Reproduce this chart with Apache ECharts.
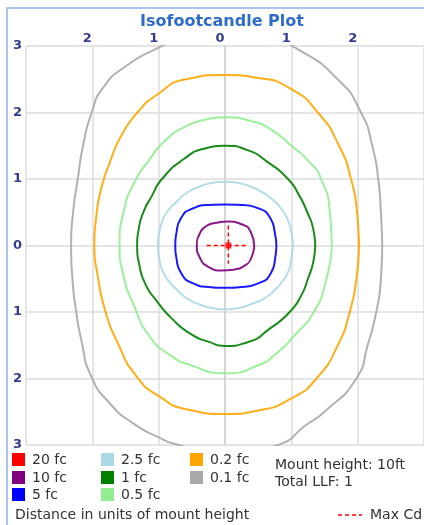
<!DOCTYPE html>
<html><head><meta charset="utf-8">
<script src="https://cdn.jsdelivr.net/npm/echarts@6/dist/echarts.min.js"></script>
<style>html,body{margin:0;padding:0;background:#fff}#c{width:424px;height:525px}</style>
</head><body><div id="c"></div>
<script>
// Contour levels (fc) and their labels
const levels = ['20 fc','10 fc','5 fc','2.5 fc','1 fc','0.5 fc','0.2 fc','0.1 fc'];
const levelColors = ['#ff0000','#800080','#0000ff','#add8e6','#008000','#90ee90','#ffa500','#a9a9a9'];
const tickValues = [-3,-2,-1,0,1,2,3];

// Isofootcandle contours, [x, y] in units of mount height
const c20 = [[0.05,0]];
const c10 = [[0.44,0],[0.39,0.2],[0.25,0.32],[0.05,0.36],[-0.15,0.34],[-0.3,0.28],[-0.38,0.18],[-0.425,0],[-0.38,-0.18],[-0.25,-0.32],[-0.05,-0.375],[0.15,-0.36],[0.3,-0.3],[0.39,-0.2],[0.44,0]];
const c5 = [[0.775,0],[0.75,0.2],[0.69,0.4],[0.5,0.56],[0.25,0.61],[0,0.615],[-0.25,0.61],[-0.48,0.56],[-0.67,0.4],[-0.73,0.2],[-0.75,0],[-0.73,-0.2],[-0.67,-0.4],[-0.48,-0.57],[-0.25,-0.625],[0,-0.635],[0.25,-0.625],[0.5,-0.57],[0.7,-0.4],[0.755,-0.2],[0.775,0]];
const c2_5 = [[1.025,0],[1.0,0.2],[0.95,0.38],[0.87,0.52],[0.74,0.67],[0.58,0.79],[0.4,0.88],[0.2,0.94],[0,0.96],[-0.2,0.94],[-0.4,0.88],[-0.58,0.79],[-0.72,0.67],[-0.86,0.52],[-0.94,0.38],[-0.99,0.2],[-1.01,0],[-0.99,-0.2],[-0.94,-0.38],[-0.86,-0.52],[-0.72,-0.67],[-0.58,-0.79],[-0.4,-0.88],[-0.2,-0.94],[0,-0.96],[0.2,-0.94],[0.4,-0.88],[0.6,-0.79],[0.75,-0.67],[0.88,-0.52],[0.96,-0.38],[1.0,-0.2],[1.025,0]];
const c1 = [[1.36,0],[1.33,0.25],[1.24,0.5],[1.12,0.75],[0.95,1.0],[0.65,1.25],[0.35,1.43],[0,1.5],[-0.3,1.46],[-0.62,1.3],[-0.95,1.0],[-1.1,0.75],[-1.23,0.5],[-1.3,0.25],[-1.325,0],[-1.29,-0.3],[-1.2,-0.58],[-1.04,-0.82],[-0.8,-1.1],[-0.5,-1.34],[-0.24,-1.45],[0,-1.51],[0.35,-1.45],[0.675,-1.25],[0.975,-1.0],[1.15,-0.75],[1.25,-0.5],[1.33,-0.25],[1.36,0]];
const c0_5 = [[1.61,0],[1.58,0.5],[1.45,1.0],[1.26,1.27],[1.0,1.5],[0.7,1.74],[0.4,1.87],[0,1.93],[-0.3,1.89],[-0.59,1.79],[-0.89,1.59],[-1.14,1.29],[-1.37,0.94],[-1.52,0.54],[-1.59,0],[-1.53,-0.45],[-1.37,-0.91],[-1.14,-1.36],[-0.84,-1.64],[-0.49,-1.81],[0,-1.92],[0.5,-1.8],[0.8,-1.6],[1.05,-1.35],[1.34,-1.0],[1.53,-0.5],[1.61,0]];
const c0_2 = [[2.02,0],[1.99,0.5],[1.9,1.0],[1.72,1.5],[1.4,2.0],[1.0,2.35],[0.5,2.52],[0,2.565],[-0.59,2.5],[-1.02,2.27],[-1.32,2.0],[-1.57,1.64],[-1.74,1.24],[-1.87,0.84],[-1.94,0.44],[-1.97,0],[-1.92,-0.45],[-1.8,-1.0],[-1.62,-1.46],[-1.34,-1.96],[-0.99,-2.27],[-0.55,-2.47],[0,-2.535],[0.5,-2.48],[1.0,-2.3],[1.38,-2.0],[1.7,-1.5],[1.88,-1.0],[1.98,-0.5],[2.02,0]];
const c0_1 = [[2.37,0],[2.35,0.5],[2.31,1.0],[2.22,1.5],[2.05,2.0],[1.7,2.5],[1.05,2.98],[0.6,3.15],[0,3.25],[-0.6,3.15],[-0.97,2.99],[-1.49,2.70],[-1.84,2.37],[-2.01,2.0],[-2.14,1.5],[-2.22,1.0],[-2.29,0.5],[-2.32,0],[-2.3,-0.5],[-2.25,-0.95],[-2.16,-1.45],[-2.02,-1.96],[-1.74,-2.37],[-1.39,-2.67],[-0.99,-2.89],[-0.74,-2.99],[0,-3.15],[0.8,-3.0],[1.22,-2.7],[1.5,-2.5],[1.98,-2.0],[2.15,-1.5],[2.28,-1.0],[2.35,-0.5],[2.37,0]];

// Max candela crosshair
const maxCdH = [[-0.275,0],[0.325,0]];
const maxCdV = [[0.05,0.3],[0.05,-0.275]];

const infoLines = ['Mount height: 10ft','Total LLF: 1'];
const footText = 'Distance in units of mount height';
const maxCdLabel = 'Max Cd';

const contours = [c10,c5,c2_5,c1,c0_5,c0_2,c0_1];
const FONT = '"DejaVu Sans", Verdana, sans-serif';

const series = contours.map((d,i)=>({
  type:'line', data:d, showSymbol:false, smooth:0.6, clip:true, silent:true,
  lineStyle:{color:levelColors[i+1], width:2, opacity:0.9}, z:3
}));
series.push({type:'scatter', data:c20, symbol:'rect', symbolSize:6, itemStyle:{color:levelColors[0]}, z:5, silent:true});
series.push({type:'line', data:maxCdH, showSymbol:false, lineStyle:{color:'#ff0000', width:1.5, type:[4,3]}, z:4, silent:true});
series.push({type:'line', data:maxCdV, showSymbol:false, lineStyle:{color:'#ff0000', width:1.5, type:[4,3]}, z:4, silent:true});

// legend graphics
const graphic = [];
graphic.push({type:'rect', shape:{x:7,y:8,width:440,height:540}, style:{fill:'none', stroke:'#8fb2ee', lineWidth:1.5}, z:-1});
const colX = [12,101,190];
const rowY = [460,478,495];
levels.forEach((lab,i)=>{
  const col = Math.floor(i/3), row = i%3;
  graphic.push({type:'rect', shape:{x:colX[col], y:rowY[row]-7, width:13, height:13}, style:{fill:levelColors[i]}});
  graphic.push({type:'text', x:colX[col]+20, y:rowY[row], style:{text:lab, fill:'#333', font:'14px '+FONT, textVerticalAlign:'middle'}});
});
infoLines.forEach((t,i)=>{
  graphic.push({type:'text', x:275, y:465+i*17, style:{text:t, fill:'#333', font:'14px '+FONT, textVerticalAlign:'middle'}});
});
graphic.push({type:'text', x:15, y:515, style:{text:footText, fill:'#333', font:'14px '+FONT, textVerticalAlign:'middle'}});
graphic.push({type:'line', shape:{x1:338,y1:515,x2:362,y2:515}, style:{stroke:'#ff0000', lineWidth:1.5, lineDash:[4,3]}});
graphic.push({type:'text', x:370, y:515, style:{text:maxCdLabel, fill:'#333', font:'14px '+FONT, textVerticalAlign:'middle'}});

const chart = echarts.init(document.getElementById('c'), null, {renderer:'canvas'});
chart.setOption({
  animation:false,
  title:{text:'Isofootcandle Plot', left:217, top:9, textAlign:'center',
    textStyle:{color:'#2f6cc8', fontSize:16, fontWeight:'bold', fontFamily:FONT}},
  grid:{left:26, top:46, width:400, height:399},
  xAxis:{type:'value', position:'top', min:tickValues[0], max:tickValues[tickValues.length-1], interval:1,
    axisLine:{show:false}, axisTick:{show:false},
    splitLine:{show:true, lineStyle:{color:'#dcdcdc', width:1.5}},
    axisLabel:{showMinLabel:false, showMaxLabel:false, margin:1, padding:[0,10,0,0],
      color:'#343a8e', fontWeight:'bold', fontSize:13, fontFamily:FONT,
      formatter:v=>String(Math.abs(v))}},
  yAxis:{type:'value', min:tickValues[0], max:tickValues[tickValues.length-1], interval:1,
    axisLine:{show:true, lineStyle:{color:'#d0d0d0', width:1.5}}, axisTick:{show:false},
    splitLine:{show:true, lineStyle:{color:'#dcdcdc', width:1.5}},
    axisLabel:{margin:4, color:'#343a8e', fontWeight:'bold', fontSize:13, fontFamily:FONT,
      formatter:v=>String(Math.abs(v))}},
  series:series,
  graphic:graphic
});
</script></body></html>
